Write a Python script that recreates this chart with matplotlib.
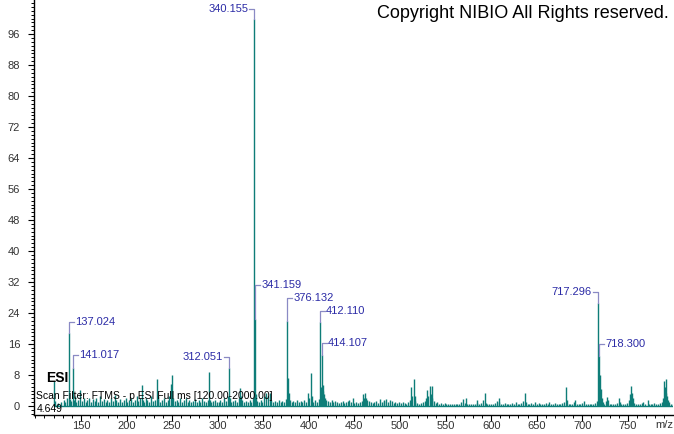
import numpy as np
import matplotlib
matplotlib.use("Agg")
import matplotlib.pyplot as plt
from matplotlib.ticker import MultipleLocator, FixedLocator

plt.rcParams["font.family"] = ["Liberation Sans", "DejaVu Sans"]

# peak list (m/z, relative abundance)
mz = [
    120.0, 121, 125, 128, 131, 133, 135, 137.024, 138, 139, 141.017, 142, 143, 145, 147, 149,
    151, 153, 155, 157, 159, 161, 163, 165, 167, 169, 171, 173, 175, 177, 179, 181, 183, 185,
    187, 189, 191, 193, 195, 197, 199,
    201, 203, 205, 207, 209, 211, 213, 215, 217.1, 218, 219, 221, 223, 225, 227, 229, 231,
    233.1, 234, 235, 237, 239, 241, 243, 245, 247, 248.5, 249.5, 251, 253, 255, 257, 259,
    261, 263, 265, 267, 269, 271, 273, 275, 277, 279, 281, 283, 285, 287, 289, 291, 292,
    293, 295, 297, 299,
    301, 303, 305, 307, 309, 311, 312.051, 313, 315, 317, 319, 321, 323, 325, 326, 327, 329,
    331, 333, 335, 337, 339, 340.155, 341.159, 342, 343, 345, 347, 349, 351, 353.4, 355,
    357.8, 359, 361, 363, 365, 367, 369, 371, 373, 375, 376.132, 377.1, 378, 379, 381, 383,
    385, 387, 389, 391, 393, 395, 397, 399.5,
    400.5, 402.7, 403.7, 405, 407, 409, 411, 412.110, 413.1, 414.107, 415.1, 416, 417, 418,
    419, 421, 423, 425, 427, 429, 431, 433, 435, 437, 439, 441, 443, 444, 446, 448, 450,
    452, 454, 456, 458, 459.7, 461, 462, 463, 464, 466, 468, 470, 472, 474, 476, 478, 480,
    482, 483, 485, 487, 489, 491, 493, 495, 497, 499,
    501, 503, 505, 507, 509, 511, 512, 513, 515, 516, 517, 519, 521, 523, 525, 527, 528.5,
    529.6, 531, 532.4, 533.5, 534.6, 535.6, 537, 539, 541, 543, 545, 547, 549, 551, 553,
    555, 557, 559, 561, 563, 565, 567, 569, 571, 572.7, 574, 576, 578, 580, 582, 584, 585,
    587, 589, 591, 592.8, 594, 596, 598,
    600, 602, 604, 606, 608.1, 609, 611, 613, 615, 617, 619, 621, 623, 625, 627, 629, 631,
    633, 635, 636.6, 638, 640, 642, 644, 646, 648, 650, 652, 654, 656, 658, 660, 662, 664,
    666, 668, 670, 672, 674, 676, 678, 680, 682, 683, 685, 687, 689, 690.5, 692.5, 694,
    696, 698,
    700, 702.3, 704, 706, 708, 710, 712, 714, 716, 717.296, 718.300, 719.3, 720.3, 721.3,
    722.3, 724, 726, 727, 728, 730, 732, 734, 736, 738, 740, 741, 743, 745, 747, 749, 751,
    752.5, 753.2, 754.2, 755.2, 757, 759, 761, 763, 765, 767, 769, 771.8, 773, 775, 777,
    779, 781, 783, 785, 787, 788.5, 789.5, 790.5, 791.3, 792.3, 793.3, 794.3, 795.3, 797, 799,
]
intensity = [
    6.5, 1.2, 0.8, 1.0, 1.5, 1.0, 2.0, 18.8, 1.8, 1.2, 9.9, 1.5, 2.5, 1.0, 1.5, 4.1,
    1.2, 2.0, 1.0, 1.5, 2.2, 1.0, 1.8, 1.2, 2.0, 1.0, 2.5, 1.2, 1.8, 1.0, 1.5, 1.0, 2.0, 1.2,
    2.8, 1.5, 1.0, 1.8, 1.0, 1.5, 2.2,
    1.0, 1.5, 2.0, 1.0, 1.5, 2.5, 1.2, 2.0, 5.4, 1.5, 1.0, 2.0, 1.5, 1.0, 2.5, 1.2, 1.5,
    7.0, 1.8, 2.5, 1.0, 1.5, 2.0, 1.0, 1.5, 2.5, 5.8, 8.0, 2.0, 1.2, 1.5, 1.0, 2.0,
    1.0, 1.5, 2.2, 1.0, 1.5, 1.0, 1.2, 1.8, 1.0, 1.5, 1.0, 2.0, 1.2, 1.0, 1.5, 8.9, 1.5,
    1.0, 1.2, 1.5, 1.0,
    1.0, 1.5, 1.0, 2.0, 1.2, 2.5, 9.9, 2.0, 1.0, 1.2, 1.5, 1.0, 2.0, 4.6, 2.5, 1.5, 1.0,
    1.2, 1.0, 1.5, 1.0, 2.0, 100.0, 22.4, 3.0, 1.2, 1.0, 1.5, 1.0, 2.5, 3.4, 2.5,
    3.4, 1.5, 1.0, 1.2, 1.0, 1.5, 1.0, 1.2, 1.0, 1.8, 22.0, 7.2, 3.5, 1.5, 1.0, 1.2,
    1.0, 1.5, 1.0, 1.2, 1.0, 1.5, 1.0, 3.3,
    2.0, 8.6, 2.5, 1.0, 1.5, 1.0, 1.8, 21.8, 5.0, 13.2, 5.5, 4.0, 3.0, 2.0,
    1.5, 1.2, 1.0, 1.5, 1.0, 1.2, 1.0, 0.8, 1.0, 1.2, 0.8, 1.0, 1.2, 1.5, 1.0, 2.0, 0.8,
    1.0, 0.8, 1.0, 1.2, 3.1, 2.0, 3.3, 2.0, 1.5, 1.2, 1.0, 0.8, 1.0, 1.2, 0.8, 1.8, 1.0,
    1.5, 1.2, 1.8, 1.0, 1.5, 1.2, 0.8, 1.0, 0.8, 1.0,
    0.8, 1.0, 0.8, 0.6, 1.0, 1.5, 5.0, 2.5, 7.0, 2.5, 1.2, 0.8, 0.6, 0.8, 1.0, 1.2, 2.0,
    4.1, 2.5, 5.2, 3.0, 5.2, 2.0, 1.2, 0.8, 1.0, 0.6, 0.8, 0.6, 0.8, 0.5, 0.6,
    0.5, 0.6, 0.5, 0.5, 0.6, 0.5, 1.0, 1.8, 0.8, 2.1, 0.6, 0.5, 0.6, 0.5, 0.6, 0.8, 1.5,
    0.6, 0.8, 1.5, 3.3, 0.8, 0.5, 0.6,
    0.5, 0.6, 0.8, 1.2, 2.2, 1.0, 0.6, 0.5, 0.8, 0.5, 0.6, 0.5, 0.8, 0.6, 1.0, 0.6, 0.5,
    0.8, 1.2, 3.4, 1.0, 0.6, 0.5, 0.8, 0.6, 1.0, 0.5, 0.8, 0.5, 0.6, 0.5, 0.8, 0.6, 1.0,
    0.5, 0.6, 0.8, 0.5, 0.6, 0.5, 0.8, 1.0, 5.0, 1.5, 0.6, 0.5, 0.6, 1.0, 1.5, 0.6,
    0.5, 0.6,
    0.8, 1.3, 0.6, 0.5, 0.6, 0.5, 0.6, 0.8, 1.2, 26.5, 12.9, 8.0, 4.5, 2.0,
    1.0, 0.6, 1.2, 2.4, 1.5, 0.6, 0.5, 0.6, 0.5, 0.8, 2.1, 1.0, 0.6, 0.5, 0.6, 0.8, 1.5,
    3.0, 5.2, 3.3, 2.0, 0.8, 0.6, 0.5, 0.6, 0.8, 1.0, 0.6, 1.5, 0.6, 0.5, 0.6,
    0.8, 0.5, 0.6, 0.8, 1.0, 2.0, 6.4, 5.0, 6.9, 3.4, 2.5, 1.5, 1.0, 0.6, 0.5,
]

# labelled peaks
label_mz = [137.024, 141.017, 312.051, 340.155, 341.159, 376.132, 412.110, 414.107, 717.296, 718.300]
label_text = ["137.024", "141.017", "312.051", "340.155", "341.159", "376.132",
              "412.110", "414.107", "717.296", "718.300"]

# label placement (style): height of bracket and side of text
label_y = [21.7, 13.2, 12.6, 102.6, 31.2, 27.9, 24.5, 16.3, 29.4, 16.0]
label_side = ["r", "r", "l", "l", "r", "r", "r", "r", "l", "r"]

y_ticks = list(range(0, 97, 8))
x_ticks = list(range(150, 751, 50))

PEAK = "#0e7d78"
LABEL = "#2b2ba6"
BRACKET = "#8a8ac4"
TICK = "#333333"


def main():
    fig = plt.figure(figsize=(6.74, 4.34), dpi=100)
    ax = fig.add_axes([34 / 674, 19 / 434, 639 / 674, 415 / 434])

    x = np.array(mz)
    y = np.array(intensity)
    xmin, xmax = 98.5, 799.5
    ax.set_xlim(xmin, xmax)
    ax.set_ylim(-2.3, 104.8)

    ax.hlines(0, x.min(), xmax, color=PEAK, lw=1.0)
    ax.vlines(x, 0, y, color=PEAK, lw=1.0)

    # brackets + labels
    arm = 5.5
    for m, t, ly, side in zip(label_mz, label_text, label_y, label_side):
        top = y[np.argmin(np.abs(x - m))]
        if side == "r":
            ax.plot([m, m, m + arm], [top, ly, ly], color=BRACKET, lw=0.9)
            ax.text(m + arm + 1.2, ly, t, color=LABEL, fontsize=8, ha="left", va="center")
        else:
            ax.plot([m - arm, m, m], [ly, ly, top], color=BRACKET, lw=0.9)
            ax.text(m - arm - 1.2, ly, t, color=LABEL, fontsize=8, ha="right", va="center")

    for s in ["top", "right"]:
        ax.spines[s].set_visible(False)
    ax.spines["left"].set_linewidth(1.0)
    ax.spines["bottom"].set_linewidth(1.0)

    ax.yaxis.set_major_locator(FixedLocator(y_ticks))
    ax.yaxis.set_minor_locator(MultipleLocator(1))
    ax.xaxis.set_major_locator(FixedLocator(x_ticks))
    ax.xaxis.set_minor_locator(MultipleLocator(10))
    ax.tick_params(which="major", width=0.8, labelsize=8, labelcolor=TICK)
    ax.tick_params(which="minor", width=0.7)
    ax.tick_params(axis="y", which="major", length=4, pad=6)
    ax.tick_params(axis="y", which="minor", length=2)
    ax.tick_params(axis="x", which="major", length=4, pad=0.5)
    ax.tick_params(axis="x", which="minor", length=2.5)

    ax.text(1.0, -5.5 / 415, "m/z", transform=ax.transAxes, fontsize=8, color=TICK,
            ha="right", va="top")

    fig.text(377 / 674, 1 - 14 / 434, "Copyright NIBIO All Rights reserved.",
             fontsize=13, color="black", ha="left", va="center")
    fig.text(46 / 674, 1 - 378 / 434, "ESI", fontsize=10, fontweight="bold", color="black",
             ha="left", va="center")
    fig.text(36 / 674, 1 - 396 / 434, "Scan Filter: FTMS - p ESI Full ms [120.00-2000.00]",
             fontsize=7.5, color="black", ha="left", va="center")
    fig.text(37 / 674, 1 - 409 / 434, "4.649", fontsize=7.5, color="black",
             ha="left", va="center")

    fig.savefig("out.png", dpi=100)


if __name__ == "__main__":
    main()
